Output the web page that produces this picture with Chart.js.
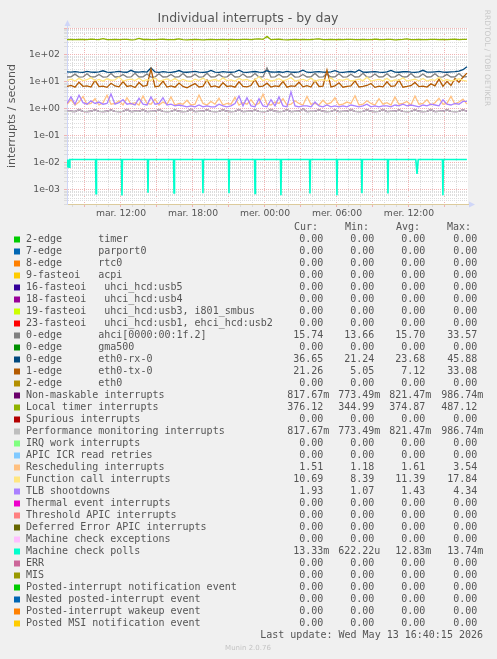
<!DOCTYPE html>
<html>
<head>
<meta charset="utf-8">
<title>Individual interrupts - by day</title>
<script src="https://cdn.jsdelivr.net/npm/chart.js@4.4.1/dist/chart.umd.min.js"></script>
<style>
  html, body { margin: 0; padding: 0; background: #f0f0f0; }
  canvas { display: block; }
</style>
</head>
<body>
<canvas id="irqChart" width="497" height="659"></canvas>
<script>
// DATA (samples every 20 minutes, hours counted from mar. 00:00)
const sampleStart = 7.5;
const sampleStep = 1 / 3;

const timerValues = [
  372, 378, 369, 381, 375, 370, 384, 376, 371, 405,
  374, 368, 379, 373, 382, 377, 366, 372, 410, 375,
  380, 371, 369, 376, 383, 372, 368, 375, 395, 371,
  366, 374, 379, 370, 362, 368, 375, 371, 369, 377,
  373, 381, 368, 372, 378, 376, 370, 385, 392, 378,
  487, 369, 377, 383, 371, 366, 374, 380, 372, 376,
  369, 375, 384, 398, 370, 373, 379, 368, 375, 372,
  381, 376, 370, 374, 378, 372, 369, 384, 375, 371,
  377, 380, 366, 373, 379, 392, 374, 370, 378, 373,
  369, 376, 382, 371, 374, 368, 379, 387, 372, 376,
  376
];

const rxValues = [
  23.5, 23.0, 24.2, 23.1, 22.8, 24.5, 23.3, 22.9, 23.8, 26.0,
  23.2, 22.7, 23.6, 24.8, 23.1, 22.9, 27.0, 23.4, 23.0, 24.1,
  23.3, 33.0, 23.5, 22.8, 24.3, 23.0, 22.6, 23.9, 26.5, 23.2,
  22.9, 23.7, 24.6, 23.0, 22.7, 23.4, 26.8, 23.1, 22.8, 24.0,
  23.3, 22.9, 23.8, 27.2, 23.1, 22.8, 23.5, 24.4, 23.0, 22.7,
  26.0, 23.4, 23.1, 23.9, 22.8, 24.6, 23.2, 22.9, 23.7, 27.5,
  23.0, 22.8, 23.6, 24.2, 23.1, 22.9, 23.8, 26.3, 23.2, 22.7,
  23.5, 24.4, 23.0, 28.0, 23.3, 22.9, 23.7, 24.1, 23.0, 22.8,
  23.6, 26.9, 23.2, 22.9, 23.9, 24.3, 23.1, 22.8, 23.5, 27.1,
  23.3, 23.0, 23.8, 24.5, 23.2, 22.9, 23.6, 24.0, 25.0, 28.5,
  36.6
];

const ahciValues = [
  15.3, 15.5, 19.5, 15.2, 15.4, 20.1, 15.3, 15.5, 19.0, 15.2,
  15.4, 20.5, 15.3, 15.6, 18.8, 15.2, 15.4, 21.0, 15.3, 15.5,
  19.6, 15.2, 15.4, 20.2, 15.3, 15.5, 18.9, 15.2, 15.6, 20.4,
  15.3, 15.4, 19.3, 15.2, 15.5, 20.8, 15.3, 15.4, 19.1, 15.2,
  15.5, 20.0, 15.3, 15.4, 19.7, 15.2, 15.6, 20.6, 15.3, 15.4,
  33.0, 15.2, 15.5, 19.4, 15.3, 15.4, 20.3, 15.2, 15.5, 19.0,
  15.3, 15.6, 20.7, 15.2, 15.4, 19.5, 15.3, 15.5, 20.1, 15.2,
  15.4, 19.2, 15.3, 15.5, 20.9, 15.2, 15.4, 19.8, 15.3, 15.6,
  20.2, 15.2, 15.4, 19.3, 15.3, 15.5, 20.5, 15.2, 15.4, 19.6,
  15.3, 15.5, 20.0, 15.2, 15.4, 19.1, 15.3, 15.6, 20.4, 15.2,
  15.7
];

const funcValues = [
  11.5, 12.8, 10.9, 13.6, 11.2, 12.1, 14.5, 11.0, 12.4, 10.7,
  13.1, 11.6, 12.0, 15.2, 10.8, 11.9, 12.7, 11.3, 13.8, 10.9,
  12.2, 11.4, 14.0, 10.6, 11.8, 12.9, 11.1, 13.3, 10.8, 12.5,
  11.0, 10.4, 12.6, 11.2, 13.9, 10.7, 11.5, 12.3, 10.9, 14.2,
  11.3, 12.0, 10.8, 13.5, 11.6, 12.4, 10.5, 11.9, 15.8, 11.2,
  12.6, 10.9, 11.7, 13.2, 11.0, 12.1, 14.6, 10.8, 11.8, 12.5,
  11.1, 13.7, 10.7, 11.9, 12.3, 11.0, 14.1, 10.6, 12.2, 11.4,
  13.0, 10.9, 11.6, 12.8, 11.2, 15.0, 10.8, 11.7, 12.4, 11.0,
  13.6, 10.7, 12.0, 11.5, 14.3, 10.9, 11.8, 12.6, 11.1, 13.4,
  10.8, 12.1, 11.4, 14.8, 11.0, 12.3, 10.9, 11.7, 13.1, 11.5,
  10.7
];

const txValues = [
  6.8, 7.5, 6.4, 9.8, 6.9, 7.2, 6.5, 11.5, 6.7, 7.0,
  6.3, 8.9, 7.1, 6.6, 10.4, 6.8, 7.3, 6.2, 9.5, 6.9,
  7.4, 30.0, 6.7, 7.0, 10.8, 6.5, 7.2, 6.4, 9.1, 6.8,
  6.1, 7.3, 8.7, 6.5, 6.9, 11.8, 6.6, 7.1, 6.3, 9.4,
  6.8, 7.2, 6.4, 10.1, 6.9, 6.6, 7.4, 12.5, 6.7, 7.0,
  9.0, 6.5, 7.1, 6.8, 10.6, 6.4, 7.2, 6.9, 9.7, 6.6,
  7.3, 6.5, 11.2, 6.8, 7.0, 28.0, 6.6, 7.2, 9.3, 6.4,
  6.9, 7.1, 10.9, 6.5, 6.8, 7.4, 8.8, 6.3, 7.0, 6.6,
  10.2, 6.9, 7.1, 11.9, 6.4, 6.8, 7.3, 9.6, 6.7, 7.0,
  6.5, 8.5, 7.2, 12.8, 6.9, 10.5, 7.4, 13.5, 9.8, 15.0,
  21.3
];

const reschedValues = [
  1.5, 2.2, 1.4, 1.8, 2.9, 1.5, 1.6, 2.4, 1.4, 1.7,
  3.2, 1.5, 1.6, 2.0, 1.4, 2.6, 1.5, 1.7, 1.4, 3.0,
  1.6, 1.5, 2.3, 1.4, 1.8, 1.5, 2.8, 1.4, 1.6, 1.5,
  2.1, 1.4, 1.5, 3.3, 1.6, 1.4, 1.9, 1.5, 2.5, 1.4,
  1.6, 1.5, 2.7, 1.4, 1.7, 1.5, 2.2, 1.4, 1.6, 3.5,
  1.5, 1.4, 1.8, 1.6, 2.4, 1.4, 1.5, 2.0, 1.6, 1.4,
  2.9, 1.5, 1.6, 1.4, 2.1, 1.5, 1.7, 2.6, 1.4, 1.5,
  1.8, 1.6, 3.1, 1.4, 1.5, 2.0, 1.6, 1.4, 2.4, 1.5,
  1.7, 1.4, 2.8, 1.5, 1.6, 1.9, 1.4, 3.0, 1.5, 1.6,
  2.2, 1.4, 1.7, 2.5, 1.5, 1.6, 2.9, 1.5, 1.8, 2.3,
  1.5
];

const tlbValues = [
  1.6, 2.8, 1.5, 3.2, 1.7, 1.5, 2.0, 1.6, 1.8, 1.5,
  1.6, 3.6, 1.5, 1.7, 2.2, 1.5, 1.6, 1.4, 2.5, 1.5,
  1.4, 2.8, 1.5, 1.6, 2.6, 1.4, 1.5, 1.3, 1.4, 1.3,
  1.2, 1.3, 1.2, 1.4, 1.2, 1.3, 1.2, 1.2, 1.5, 1.3,
  1.2, 1.3, 1.6, 3.0, 1.3, 2.6, 1.3, 1.2, 2.4, 1.3,
  1.2, 2.2, 1.3, 2.8, 1.3, 1.2, 4.3, 1.3, 1.2, 1.3,
  1.3, 1.2, 1.8, 1.3, 1.2, 1.4, 1.2, 1.3, 1.2, 1.3,
  1.2, 1.4, 1.3, 1.2, 1.3, 1.5, 1.2, 1.3, 1.2, 1.3,
  1.3, 1.2, 1.4, 1.3, 1.5, 1.3, 1.4, 1.3, 1.2, 1.4,
  1.3, 1.5, 1.4, 1.3, 2.2, 1.5, 1.4, 1.6, 1.5, 1.9,
  1.9
];

// non-maskable and performance monitoring interrupts report the same counts
const nmiValues = [
  0.81, 0.82, 0.80, 0.95, 0.81, 0.80, 0.82, 0.94, 0.81, 0.80,
  0.82, 0.92, 0.81, 0.80, 0.81, 0.96, 0.80, 0.82, 0.81, 0.93,
  0.80, 0.81, 0.82, 0.95, 0.81, 0.80, 0.81, 0.92, 0.82, 0.80,
  0.81, 0.97, 0.80, 0.81, 0.82, 0.94, 0.81, 0.80, 0.81, 0.93,
  0.82, 0.80, 0.81, 0.96, 0.80, 0.81, 0.82, 0.92, 0.81, 0.80,
  0.81, 0.95, 0.82, 0.80, 0.81, 0.93, 0.80, 0.81, 0.82, 0.99,
  0.80, 0.81, 0.81, 0.94, 0.82, 0.80, 0.81, 0.92, 0.80, 0.81,
  0.82, 0.95, 0.81, 0.80, 0.81, 0.93, 0.82, 0.80, 0.81, 0.96,
  0.80, 0.81, 0.82, 0.92, 0.81, 0.80, 0.81, 0.94, 0.82, 0.80,
  0.81, 0.95, 0.80, 0.81, 0.82, 0.93, 0.81, 0.80, 0.81, 0.94,
  0.82
];
const perfValues = nmiValues;

// machine check polls: flat level with short dips
const mcHours = [
  7.5, 7.56, 7.62, 7.68, 7.74, 7.8,
  9.88, 9.92, 9.96,
  12.04, 12.08, 12.12,
  14.21, 14.25, 14.29,
  16.38, 16.42, 16.46,
  18.79, 18.83, 18.87,
  20.96, 21.0, 21.04,
  23.13, 23.17, 23.21,
  25.29, 25.33, 25.37,
  27.71, 27.75, 27.79,
  29.96, 30.0, 30.04,
  32.04, 32.08, 32.12,
  34.21, 34.25, 34.29,
  36.57, 36.67, 36.77,
  38.79, 38.83, 38.87,
  40.83
];
const mcValues = [
  0.0133, 0.0068, 0.0133, 0.0070, 0.0133, 0.0133,
  0.0133, 0.00073, 0.0133,
  0.0133, 0.00062, 0.0133,
  0.0133, 0.00078, 0.0133,
  0.0133, 0.00077, 0.0133,
  0.0133, 0.00075, 0.0133,
  0.0133, 0.00075, 0.0133,
  0.0133, 0.00074, 0.0133,
  0.0133, 0.00063, 0.0133,
  0.0133, 0.00074, 0.0133,
  0.0133, 0.00063, 0.0133,
  0.0133, 0.00075, 0.0133,
  0.0133, 0.00074, 0.0133,
  0.0133, 0.0039, 0.0133,
  0.0133, 0.00063, 0.0133,
  0.0133
];

// TICKS
const yTickValues = [1e-3, 1e-2, 1e-1, 1e0, 1e1, 1e2];
const yTickLabels = ["1e-03", "1e-02", "1e-01", "1e+00", "1e+01", "1e+02"];
const xTickHours = [12, 18, 24, 30, 36];
const xTickLabels = ["mar. 12:00", "mar. 18:00", "mer. 00:00", "mer. 06:00", "mer. 12:00"];

// LEGEND
const legendLabels = [
  "2-edge      timer",
  "7-edge      parport0",
  "8-edge      rtc0",
  "9-fasteoi   acpi",
  "16-fasteoi   uhci_hcd:usb5",
  "18-fasteoi   uhci_hcd:usb4",
  "19-fasteoi   uhci_hcd:usb3, i801_smbus",
  "23-fasteoi   uhci_hcd:usb1, ehci_hcd:usb2",
  "0-edge      ahci[0000:00:1f.2]",
  "0-edge      gma500",
  "0-edge      eth0-rx-0",
  "1-edge      eth0-tx-0",
  "2-edge      eth0",
  "Non-maskable interrupts",
  "Local timer interrupts",
  "Spurious interrupts",
  "Performance monitoring interrupts",
  "IRQ work interrupts",
  "APIC ICR read retries",
  "Rescheduling interrupts",
  "Function call interrupts",
  "TLB shootdowns",
  "Thermal event interrupts",
  "Threshold APIC interrupts",
  "Deferred Error APIC interrupts",
  "Machine check exceptions",
  "Machine check polls",
  "ERR",
  "MIS",
  "Posted-interrupt notification event",
  "Nested posted-interrupt event",
  "Posted-interrupt wakeup event",
  "Posted MSI notification event"
];
const legendColors = [
  "#00cc00", "#0066b3", "#ff8000", "#ffcc00", "#330099", "#990099", "#ccff00", "#ff0000",
  "#808080", "#008f00", "#00487d", "#b35a00", "#b38f00", "#6b006b", "#8fb300", "#b30000",
  "#bebebe", "#80ff80", "#80c9ff", "#ffc080", "#ffe680", "#aa80ff", "#ee00cc", "#ff8080",
  "#666600", "#ffbfff", "#00ffcc", "#cc6699", "#999900", "#00cc00", "#0066b3", "#ff8000",
  "#ffcc00"
];
const Z = "0.00";
const legendCur = [Z, Z, Z, Z, Z, Z, Z, Z, "15.74", Z, "36.65", "21.26", Z, "817.67m", "376.12", Z,
  "817.67m", Z, Z, "1.51", "10.69", "1.93", Z, Z, Z, Z, "13.33m", Z, Z, Z, Z, Z, Z];
const legendMin = [Z, Z, Z, Z, Z, Z, Z, Z, "13.66", Z, "21.24", "5.05", Z, "773.49m", "344.99", Z,
  "773.49m", Z, Z, "1.18", "8.39", "1.07", Z, Z, Z, Z, "622.22u", Z, Z, Z, Z, Z, Z];
const legendAvg = [Z, Z, Z, Z, Z, Z, Z, Z, "15.70", Z, "23.68", "7.12", Z, "821.47m", "374.87", Z,
  "821.47m", Z, Z, "1.61", "11.39", "1.43", Z, Z, Z, Z, "12.83m", Z, Z, Z, Z, Z, Z];
const legendMax = [Z, Z, Z, Z, Z, Z, Z, Z, "33.57", Z, "45.88", "33.08", Z, "986.74m", "487.12", Z,
  "986.74m", Z, Z, "3.54", "17.84", "4.34", Z, Z, Z, Z, "13.74m", Z, Z, Z, Z, Z, Z];

// series that are not zero (zero cannot be drawn on a log axis)
const plotted = [
  { idx: 8, values: ahciValues },
  { idx: 10, values: rxValues },
  { idx: 11, values: txValues },
  { idx: 13, values: nmiValues },
  { idx: 14, values: timerValues },
  { idx: 16, values: perfValues },
  { idx: 19, values: reschedValues },
  { idx: 20, values: funcValues },
  { idx: 21, values: tlbValues }
];

// STYLE
const fontSans = "'DejaVu Sans', sans-serif";
const fontMono = "'DejaVu Sans Mono', monospace";
const textColor = "#555555";
const gridMinor = "#dcdcdc";
const gridMajor = "#f0b4b4";

const datasets = plotted.map((s) => ({
  label: legendLabels[s.idx],
  data: s.values.map((v, i) => ({ x: sampleStart + i * sampleStep, y: v })),
  borderColor: legendColors[s.idx],
  order: -s.idx
}));
datasets.push({
  label: legendLabels[26],
  data: mcHours.map((h, i) => ({ x: h, y: mcValues[i] })),
  borderColor: legendColors[26],
  borderWidth: 1.6,
  order: -26
});

function yLabelFor(v) {
  const i = yTickValues.findIndex((t) => Math.abs(Math.log10(v / t)) < 1e-6);
  return i < 0 ? "" : yTickLabels[i];
}

function xLabelFor(v) {
  const i = xTickHours.indexOf(Math.round(v));
  return i < 0 || Math.abs(v - xTickHours[i]) > 1e-6 ? "" : xTickLabels[i];
}

// DECOR: canvas, titles, arrows, legend table
const decor = {
  id: "decor",
  beforeDraw(chart) {
    const { ctx, chartArea: a } = chart;
    ctx.save();
    ctx.fillStyle = "#ffffff";
    ctx.fillRect(a.left, a.top, a.right - a.left, a.bottom - a.top);
    ctx.restore();
  },
  afterDraw(chart) {
    const { ctx, chartArea: a } = chart;
    ctx.save();

    // arrows
    ctx.fillStyle = "#cfd6f8";
    ctx.strokeStyle = "#cfd6f8";
    ctx.lineWidth = 1;
    ctx.beginPath();
    ctx.moveTo(a.left + 0.5, a.top);
    ctx.lineTo(a.left + 0.5, a.top - 3);
    ctx.stroke();
    ctx.beginPath();
    ctx.moveTo(a.left - 2.5, a.top - 2);
    ctx.lineTo(a.left + 3.5, a.top - 2);
    ctx.lineTo(a.left + 0.5, a.top - 8);
    ctx.closePath();
    ctx.fill();
    ctx.beginPath();
    ctx.moveTo(a.right + 1, a.bottom - 2.5);
    ctx.lineTo(a.right + 1, a.bottom + 3.5);
    ctx.lineTo(a.right + 7, a.bottom + 0.5);
    ctx.closePath();
    ctx.fill();

    // title
    ctx.fillStyle = textColor;
    ctx.textAlign = "center";
    ctx.textBaseline = "middle";
    ctx.font = "12.5px " + fontSans;
    ctx.fillText("Individual interrupts - by day", 248, 19);

    // y axis title
    ctx.save();
    ctx.translate(12, 116);
    ctx.rotate(-Math.PI / 2);
    ctx.font = "11px " + fontSans;
    ctx.fillText("interrupts / second", 0, 0);
    ctx.restore();

    // side credit
    ctx.save();
    ctx.translate(487, 58);
    ctx.rotate(Math.PI / 2);
    ctx.fillStyle = "#c8c8c8";
    ctx.font = "7.5px " + fontSans;
    ctx.fillText("RRDTOOL / TOBI OETIKER", 0, 0);
    ctx.restore();

    // legend table
    const valueRight = [323.3, 374.3, 425.3, 477.3];
    const headerLeft = [294, 345, 396, 447];
    const columns = [legendCur, legendMin, legendAvg, legendMax];
    ctx.font = "10px " + fontMono;
    ctx.textAlign = "left";
    ["Cur:", "Min:", "Avg:", "Max:"].forEach((h, k) => ctx.fillText(h, headerLeft[k], 227.5));

    legendLabels.forEach((label, i) => {
      const y = 239.5 + i * 12;
      ctx.fillStyle = legendColors[i];
      ctx.fillRect(14, y - 3, 6, 6);
      ctx.fillStyle = textColor;
      ctx.textAlign = "left";
      ctx.fillText(label, 26, y);
      columns.forEach((col, k) => {
        const txt = col[i];
        const last = txt.slice(-1);
        const hasSuffix = /[a-z]/i.test(last);
        const num = hasSuffix ? txt.slice(0, -1) : txt;
        ctx.textAlign = "right";
        ctx.fillText(num, valueRight[k], y);
        if (hasSuffix) {
          ctx.textAlign = "left";
          ctx.fillText(last, valueRight[k], y);
        }
      });
    });

    ctx.textAlign = "right";
    ctx.fillText("Last update: Wed May 13 16:40:15 2026", 483, 635.5);

    ctx.textAlign = "center";
    ctx.fillStyle = "#c4c4c4";
    ctx.font = "7px " + fontSans;
    ctx.fillText("Munin 2.0.76", 248, 648);

    ctx.restore();
  }
};

// CHART
const ctx = document.getElementById("irqChart");

new Chart(ctx, {
  type: "line",
  data: { datasets },
  options: {
    responsive: false,
    animation: false,
    devicePixelRatio: 1,
    layout: { padding: { left: 0, top: 28, right: 29, bottom: 435 } },
    elements: {
      line: { borderWidth: 1.3, tension: 0, fill: false },
      point: { radius: 0 }
    },
    plugins: {
      legend: { display: false },
      tooltip: { enabled: false }
    },
    scales: {
      x: {
        type: "linear",
        min: 7.5,
        max: 40.92,
        bounds: "data",
        afterFit: (s) => { s.height = 20; },
        afterBuildTicks: (s) => {
          const ticks = [];
          for (let h = 8; h <= 40; h++) ticks.push({ value: h, major: h % 3 === 0 });
          s.ticks = ticks;
        },
        ticks: {
          autoSkip: false,
          maxRotation: 0,
          padding: 1,
          color: textColor,
          font: { family: fontSans, size: 9.25 },
          callback: (v) => xLabelFor(v)
        },
        grid: {
          color: (c) => (c.tick && c.tick.major ? gridMajor : gridMinor),
          tickLength: 3
        },
        border: { color: "#dccb9c", dash: [1, 1] }
      },
      y: {
        type: "logarithmic",
        min: 3e-4,
        max: 1000,
        bounds: "data",
        afterFit: (s) => { s.width = 67; },
        afterBuildTicks: (s) => {
          const ticks = [];
          for (let e = -4; e <= 3; e++) {
            for (let m = 1; m <= 9; m++) {
              const v = m * Math.pow(10, e);
              if (v >= s.min * 0.999 && v <= s.max * 1.001) ticks.push({ value: v, major: m === 1 });
            }
          }
          s.ticks = ticks;
        },
        ticks: {
          autoSkip: false,
          padding: 4,
          color: textColor,
          font: { family: fontSans, size: 9.25 },
          callback: (v) => yLabelFor(v)
        },
        grid: {
          color: (c) => (c.tick && c.tick.major ? gridMajor : gridMinor),
          tickLength: 3
        },
        border: { color: "#cfd6f8", dash: [1, 1] }
      }
    }
  },
  plugins: [decor]
});
</script>
</body>
</html>
